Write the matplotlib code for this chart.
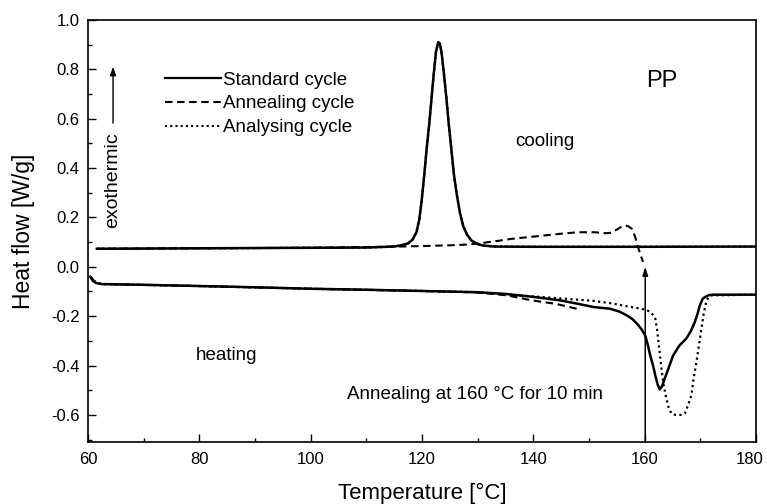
"""DSC traces for PP: standard, annealing and analysing cycles."""

import matplotlib

matplotlib.use("Agg")

import matplotlib.pyplot as plt
from matplotlib.ticker import MultipleLocator

plt.rcParams["font.family"] = ["Liberation Sans", "DejaVu Sans"]

INK = "#000000"

# cooling run, standard cycle (analysing cycle lies on top of it)
cool_T = [61.6, 80, 100, 110, 115, 116.5, 117.5, 118.3, 119.0, 119.5, 119.9, 120.4,
          120.8, 121.3, 121.7, 122.1, 122.5, 122.9, 123.2, 123.5, 123.9, 124.4, 124.8,
          125.3, 125.7, 126.2, 126.8, 127.4, 128.1, 128.9, 130, 131, 133, 140, 160, 180]
cool_std = [0.073, 0.075, 0.077, 0.078, 0.082, 0.088, 0.095, 0.11, 0.14, 0.19, 0.26, 0.37,
            0.47, 0.58, 0.68, 0.78, 0.87, 0.91, 0.905, 0.87, 0.79, 0.68, 0.58,
            0.47, 0.38, 0.30, 0.22, 0.165, 0.13, 0.106, 0.092, 0.086, 0.082, 0.081, 0.081, 0.082]

# cooling run after annealing at 160 C
cool_ann_T = [61.6, 100, 116, 120, 125, 128, 130, 133, 136, 139, 142, 145, 148, 151,
              153, 154, 155.3, 156.2, 157, 157.7, 158.3, 158.8, 159.3, 159.7]
cool_ann = [0.073, 0.077, 0.082, 0.084, 0.087, 0.09, 0.094, 0.103, 0.113, 0.12, 0.127,
            0.134, 0.14, 0.14, 0.136, 0.138, 0.155, 0.167, 0.165, 0.154, 0.12, 0.08,
            0.045, 0.02]

# heating run, standard cycle
heat_T = [60.4, 60.9, 61.5, 62.5, 70, 80, 90, 100, 110, 120, 130, 135, 140, 144.8, 148,
          150.8, 153.8, 155.5, 156.8, 157.8, 158.6, 159.4, 160.1, 160.6, 161.0, 161.5,
          161.9, 162.3, 162.7, 163.1, 163.6, 164.3, 165.1, 166.2, 167.5, 168.3, 169.0,
          169.5, 169.9, 170.4, 170.8, 171.5, 172.3, 180]
heat_std = [-0.04, -0.058, -0.066, -0.07, -0.073, -0.078, -0.083, -0.089, -0.093, -0.098,
            -0.103, -0.11, -0.122, -0.136, -0.15, -0.163, -0.17, -0.182, -0.197, -0.212,
            -0.23, -0.252, -0.278, -0.32, -0.36, -0.40, -0.44, -0.475, -0.497, -0.485,
            -0.453, -0.41, -0.36, -0.32, -0.29, -0.26, -0.224, -0.19, -0.157, -0.13,
            -0.123, -0.115, -0.113, -0.113]

# heating run of the annealing cycle (stops before 160 C)
heat_ann_T = [60.4, 61.5, 62.5, 80, 100, 120, 130, 135.3, 139.7, 144, 147.8]
heat_ann = [-0.04, -0.066, -0.07, -0.078, -0.089, -0.098, -0.104, -0.116, -0.136, -0.15, -0.17]

# heating run of the analysing cycle
heat_ana_T = [60.4, 61.5, 62.5, 80, 100, 120, 130, 140, 144.8, 150.8, 154, 156.8, 159.4,
              160.3, 161, 161.5, 161.9, 162.2, 162.4, 162.7, 163, 163.4, 163.9, 164.3,
              164.8, 165.5, 166.5, 167.2, 167.8, 168.4, 168.8, 169.3, 169.8, 170.2,
              170.6, 171.1, 171.6, 172.0, 180]
heat_ana = [-0.04, -0.066, -0.07, -0.078, -0.089, -0.098, -0.103, -0.12, -0.128, -0.138,
            -0.148, -0.16, -0.17, -0.175, -0.183, -0.195, -0.21, -0.25, -0.29, -0.35,
            -0.41, -0.48, -0.534, -0.57, -0.595, -0.6, -0.6, -0.595, -0.56, -0.52,
            -0.45, -0.386, -0.31, -0.25, -0.19, -0.136, -0.12, -0.116, -0.113]

X_MAX = 180

fig = plt.figure(figsize=(7.67, 5.04), dpi=100)
ax = fig.add_axes([0.1147, 0.123, 0.871, 0.8373])

dash = (0, (3.6, 2.2))
dot = (0, (1, 1.5))

ax.plot(cool_ann_T, cool_ann, color=INK, lw=1.5, linestyle=dash)
ax.plot(heat_ann_T, heat_ann, color=INK, lw=1.5, linestyle=dash)
ax.plot(cool_T, cool_std, color=INK, lw=1.8)
ax.plot(heat_T, heat_std, color=INK, lw=1.8)
ax.plot(cool_T, cool_std, color=INK, lw=1.6, linestyle=dot)
ax.plot(heat_ana_T, heat_ana, color=INK, lw=1.6, linestyle=dot)

# legend entries
ax.plot([], [], color=INK, lw=1.6, label="Standard cycle")
ax.plot([], [], color=INK, lw=1.5, linestyle=dash, label="Annealing cycle")
ax.plot([], [], color=INK, lw=1.5, linestyle=dot, label="Analysing cycle")
handles, labels = ax.get_legend_handles_labels()
ax.legend(handles[-3:], labels[-3:], loc="upper left", bbox_to_anchor=(0.115, 0.878),
          frameon=False, fontsize=13.5, handlelength=3.0, handletextpad=0.1,
          labelspacing=0.36, borderaxespad=0, borderpad=0)

ax.set_xlim(60, X_MAX)
ax.set_ylim(-0.71, 1.0)
ax.xaxis.set_major_locator(MultipleLocator(20))
ax.xaxis.set_minor_locator(MultipleLocator(10))
ax.yaxis.set_major_locator(MultipleLocator(0.2))
ax.yaxis.set_minor_locator(MultipleLocator(0.1))
# the 180 label is drawn separately so it can hug the canvas edge like the scan
ax.xaxis.set_major_formatter(plt.FuncFormatter(lambda v, _: "" if v >= X_MAX else f"{v:.0f}"))
ax.yaxis.set_major_formatter(plt.FuncFormatter(lambda v, _: f"{v:.1f}"))
ax.tick_params(which="major", direction="in", length=6, width=1, labelsize=12)
ax.tick_params(which="minor", direction="in", length=3, width=1)
ax.tick_params(axis="x", pad=7)
ax.tick_params(axis="y", pad=6)
for side in ax.spines.values():
    side.set_linewidth(1.2)
ax.annotate(f"{X_MAX}", xy=(X_MAX, 0), xycoords=ax.get_xaxis_transform(),
            xytext=(7, -9.6), textcoords="offset pixels", ha="right", va="top", fontsize=12)

ax.set_xlabel("Temperature [°C]", fontsize=16)
ax.set_ylabel("Heat flow [W/g]", fontsize=16.5)
ax.xaxis.set_label_coords(0.5, -0.098)
ax.yaxis.set_label_coords(-0.080, 0.5)

ax.annotate("", xy=(64.5, 0.822), xytext=(64.5, 0.571),
            arrowprops=dict(arrowstyle="-|>,head_length=0.5,head_width=0.18", color=INK, lw=1))
ax.text(64.5, 0.352, "exothermic", rotation=90, ha="center", va="center", fontsize=14)
ax.text(142.1, 0.506, "cooling", ha="center", va="center", fontsize=13.5)
ax.text(163.1, 0.753, "PP", ha="center", va="center", fontsize=17)
ax.text(84.8, -0.36, "heating", ha="center", va="center", fontsize=13.5)
ax.text(106.5, -0.516, "Annealing at 160 °C for 10 min", ha="left", va="center", fontsize=13.5)
ax.annotate("", xy=(160.1, 0.0), xytext=(160.1, -0.71),
            arrowprops=dict(arrowstyle="-|>,head_length=0.5,head_width=0.16", color=INK, lw=1.1,
                            shrinkA=0, shrinkB=0))

fig.savefig("out.png", dpi=100, facecolor="white")
